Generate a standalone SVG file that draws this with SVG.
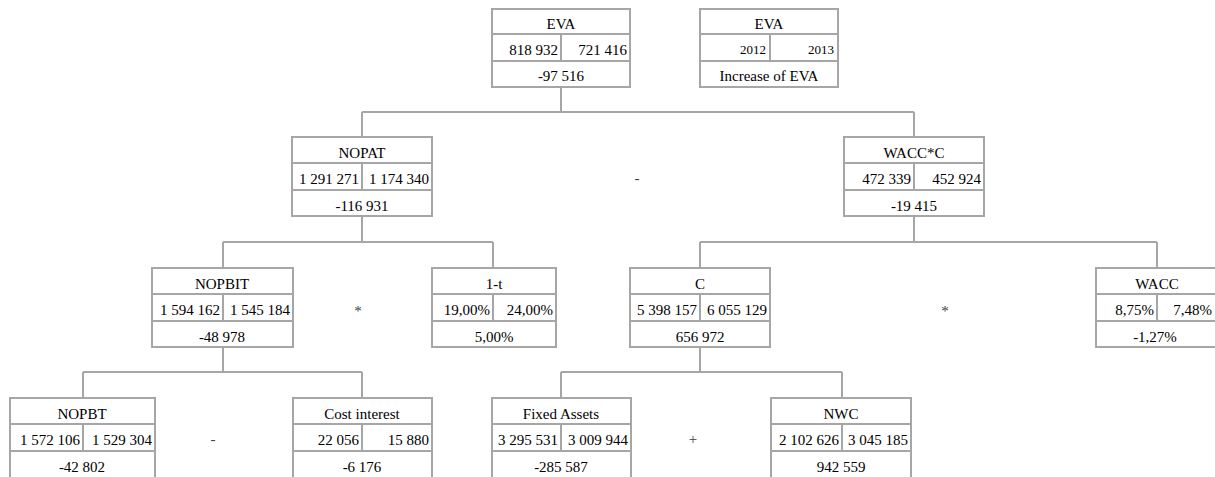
<svg xmlns="http://www.w3.org/2000/svg" width="1215" height="477" viewBox="0 0 1215 477" font-family="'Liberation Serif', 'Times New Roman', Times, serif">
<style>
.b{fill:#fff;stroke:#a6a6a6;stroke-width:2}
.l{stroke:#a6a6a6;stroke-width:2;fill:none}
text{font-family:'Liberation Serif','Times New Roman',Times,serif;font-size:15px;fill:#000}
.c{text-anchor:middle}
.r{text-anchor:end}
.s{font-size:13px}
.op{text-anchor:middle;fill:#404040}
</style>
<rect width="1215" height="477" fill="#fff"/>
<g id="connectors">
<path class="l" d="M561 88V112M362 112H914M362 112V137M914 112V137"/>
<path class="l" d="M362 216V242M223 242H493M223 242V268M493 242V268"/>
<path class="l" d="M914 216V242M700 242H1157M700 242V268M1157 242V268"/>
<path class="l" d="M223 347V372M83 372H362M83 372V398M362 372V398"/>
<path class="l" d="M700 347V372M561 372H842M561 372V398M842 372V398"/>
</g>
<g id="eva">
<rect class="b" x="492" y="9" width="138" height="78"/>
<path class="l" d="M492 34H630M492 61H630M561 34V61"/>
<text class="c" x="561" y="29">EVA</text>
<text class="r" x="558" y="55">818 932</text>
<text class="r" x="627" y="55">721 416</text>
<text class="c" x="561" y="81">-97 516</text>
</g>
<g id="legend">
<rect class="b" x="700" y="9" width="138" height="78"/>
<path class="l" d="M700 34H838M700 61H838M770 34V61"/>
<text class="c" x="769" y="29">EVA</text>
<text class="r s" x="766" y="54">2012</text>
<text class="r s" x="834" y="54">2013</text>
<text class="c" x="769" y="81">Increase of EVA</text>
</g>
<g id="nopat">
<rect class="b" x="292" y="137" width="140" height="79"/>
<path class="l" d="M292 163H432M292 190H432M362 163V190"/>
<text class="c" x="362" y="158">NOPAT</text>
<text class="r" x="359" y="184">1 291 271</text>
<text class="r" x="429" y="184">1 174 340</text>
<text class="c" x="362" y="211">-116 931</text>
</g>
<text class="op" x="637" y="183">-</text>
<g id="waccc">
<rect class="b" x="844" y="137" width="140" height="79"/>
<path class="l" d="M844 163H984M844 190H984M914 163V190"/>
<text class="c" x="914" y="158">WACC*C</text>
<text class="r" x="911" y="184">472 339</text>
<text class="r" x="981" y="184">452 924</text>
<text class="c" x="914" y="211">-19 415</text>
</g>
<g id="nopbit">
<rect class="b" x="152" y="268" width="141" height="79"/>
<path class="l" d="M152 294H293M152 321H293M223 294V321"/>
<text class="c" x="222" y="289">NOPBIT</text>
<text class="r" x="220" y="315">1 594 162</text>
<text class="r" x="290" y="315">1 545 184</text>
<text class="c" x="222" y="342">-48 978</text>
</g>
<text class="op" x="358" y="316">*</text>
<g id="onet">
<rect class="b" x="432" y="268" width="124" height="79"/>
<path class="l" d="M432 294H556M432 321H556M493 294V321"/>
<text class="c" x="494" y="289">1-t</text>
<text class="r" x="490" y="315">19,00%</text>
<text class="r" x="553" y="315">24,00%</text>
<text class="c" x="494" y="342">5,00%</text>
</g>
<g id="c">
<rect class="b" x="630" y="268" width="140" height="79"/>
<path class="l" d="M630 294H770M630 321H770M700 294V321"/>
<text class="c" x="700" y="289">C</text>
<text class="r" x="697" y="315">5 398 157</text>
<text class="r" x="767" y="315">6 055 129</text>
<text class="c" x="700" y="342">656 972</text>
</g>
<text class="op" x="945" y="316">*</text>
<g id="wacc">
<rect class="b" x="1096" y="268" width="122" height="79"/>
<path class="l" d="M1096 294H1218M1096 321H1218M1157 294V321"/>
<text class="c" x="1157" y="289">WACC</text>
<text class="r" x="1154" y="315">8,75%</text>
<text class="r" x="1212" y="315">7,48%</text>
<text class="c" x="1155" y="342">-1,27%</text>
</g>
<g id="nopbt">
<rect class="b" x="10" y="398" width="145" height="84"/>
<path class="l" d="M10 424H155M10 451H155M83 424V451"/>
<text class="c" x="82" y="419">NOPBT</text>
<text class="r" x="80" y="445">1 572 106</text>
<text class="r" x="152" y="445">1 529 304</text>
<text class="c" x="82" y="472">-42 802</text>
</g>
<text class="op" x="213" y="444">-</text>
<g id="costinterest">
<rect class="b" x="293" y="398" width="139" height="84"/>
<path class="l" d="M293 424H432M293 451H432M362 424V451"/>
<text class="c" x="362" y="419">Cost interest</text>
<text class="r" x="359" y="445">22 056</text>
<text class="r" x="429" y="445">15 880</text>
<text class="c" x="362" y="472">-6 176</text>
</g>
<g id="fixedassets">
<rect class="b" x="492" y="398" width="139" height="84"/>
<path class="l" d="M492 424H631M492 451H631M561 424V451"/>
<text class="c" x="561" y="419">Fixed Assets</text>
<text class="r" x="558" y="445">3 295 531</text>
<text class="r" x="628" y="445">3 009 944</text>
<text class="c" x="561" y="472">-285 587</text>
</g>
<text class="op" x="693" y="444">+</text>
<g id="nwc">
<rect class="b" x="771" y="398" width="140" height="84"/>
<path class="l" d="M771 424H911M771 451H911M842 424V451"/>
<text class="c" x="841" y="419">NWC</text>
<text class="r" x="839" y="445">2 102 626</text>
<text class="r" x="908" y="445">3 045 185</text>
<text class="c" x="841" y="472">942 559</text>
</g>
</svg>
